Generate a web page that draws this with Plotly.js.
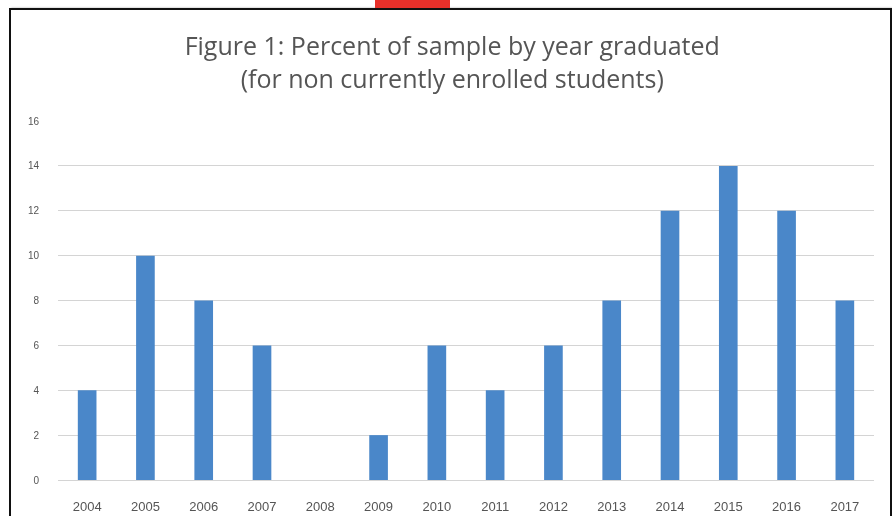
<!DOCTYPE html>
<html>
<head>
<meta charset="utf-8">
<script src="https://cdn.plot.ly/plotly-3.0.1.min.js"></script>
<style>
  html, body { margin: 0; padding: 0; background: #ffffff; }
  #wrap { position: relative; width: 892px; height: 516px; overflow: hidden; background: #ffffff; }
  #chart { position: absolute; left: 0; top: 0; width: 892px; height: 516px; filter: blur(0.7px); }
  #frame { position: absolute; left: 9px; top: 8px; width: 879px; height: 520px;
           border: 2px solid #111111; box-shadow: 2px 0 2px rgba(0,0,0,0.35); pointer-events: none; }
  #tab { position: absolute; left: 375px; top: 0; width: 75px; height: 8px; background: #e8302a; }
</style>
</head>
<body>
<div id="wrap">
  <div id="chart"></div>
  <div id="frame"></div>
  <div id="tab"></div>
</div>
<script>
// Share of sample (%) by graduation year, non-currently-enrolled students
const years = ['2004', '2005', '2006', '2007', '2008', '2009', '2010',
               '2011', '2012', '2013', '2014', '2015', '2016', '2017'];
const percents = [4, 10, 8, 6, 0, 2, 6, 4, 6, 8, 12, 14, 12, 8];
const yTicks = [0, 2, 4, 6, 8, 10, 12, 14, 16];

const grey = '#555555';

Plotly.newPlot('chart', [{
  type: 'bar',
  x: years,
  y: percents,
  marker: { color: '#4a87c9' },
  hoverinfo: 'x+y'
}], {
  width: 892,
  height: 516,
  paper_bgcolor: '#ffffff',
  plot_bgcolor: '#ffffff',
  margin: { l: 58, r: 18, t: 121, b: 36 },
  bargap: 0.68,
  showlegend: false,
  title: {
    text: 'Figure 1: Percent of sample by year graduated<br>(for non currently enrolled students)',
    font: { family: 'Open Sans, sans-serif', size: 25, color: grey },
    x: 0.507, xanchor: 'center',
    y: 0.893, yanchor: 'middle'
  },
  xaxis: {
    type: 'category',
    showgrid: false,
    showline: true,
    linecolor: '#d4d4d4',
    linewidth: 1,
    ticks: '',
    ticklabelstandoff: 14,
    tickfont: { family: 'Liberation Sans Narrow, Liberation Sans, sans-serif', size: 13, color: grey }
  },
  yaxis: {
    range: [0, 16],
    tickvals: yTicks,
    showgrid: true,
    gridcolor: '#d4d4d4',
    gridwidth: 1,
    zeroline: false,
    showline: false,
    ticks: '',
    ticklabelstandoff: 18,
    tickfont: { family: 'Liberation Sans Narrow, Liberation Sans, sans-serif', size: 10, color: grey }
  }
}, { displayModeBar: false, staticPlot: true });
</script>
</body>
</html>
